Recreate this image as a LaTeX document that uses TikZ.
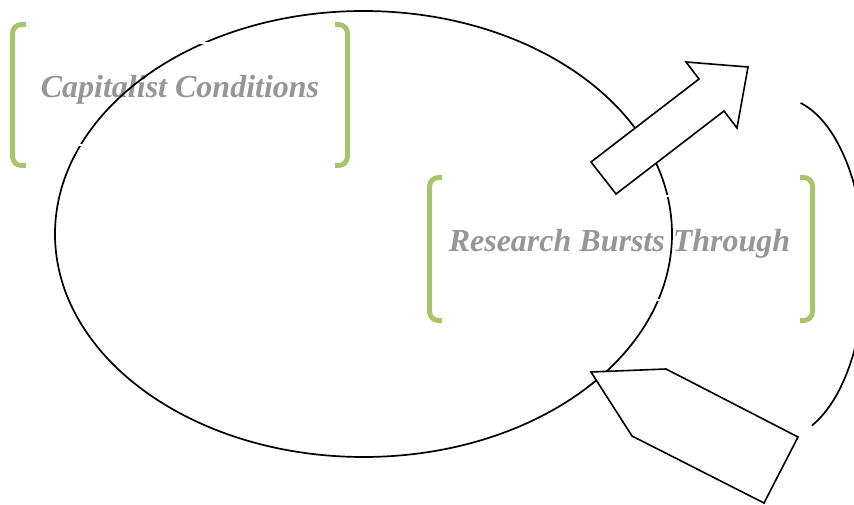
\documentclass[tikz,border=0pt]{standalone}
\usepackage{fontspec}
\setmainfont{Liberation Serif}
\usetikzlibrary{shapes.geometric}
\definecolor{brk}{RGB}{169,196,108}
\definecolor{txt}{RGB}{150,150,150}
\begin{document}
\begin{tikzpicture}[x=1pt,y=1pt,
  bracketline/.style={draw=brk,line width=5pt,rounded corners=9pt},
  lbl/.style={text=txt,font=\fontsize{32}{38}\selectfont\bfseries\itshape,inner sep=0pt,anchor=base},
  wbox/.style={draw=white,line width=2pt,inner sep=0pt},
  blockarrow/.style={draw=black,fill=white,line width=1.6pt,line join=miter},
  ring/.style={draw=black,line width=1.7pt}]
\useasboundingbox (0,0) rectangle (854,504);
\clip (0,0) rectangle (854,504);
% text
\node[lbl] (cap) at (180,406) {Capitalist Conditions};
\node[lbl] (res) at (619.5,252) {Research Bursts Through};
% main ellipse
\node[ring,ellipse,draw,minimum width=617pt,minimum height=446pt,inner sep=0pt] (cyc) at (363.5,270) {};
% white box outlines
\node[wbox,minimum width=300pt,minimum height=102pt] (capbox) at (180,410) {};
\node[wbox,minimum width=350pt,minimum height=104pt] (resbox) at (620,256) {};
% right arc
\coordinate (arcstart) at (800.6,401);
\draw[ring] (arcstart) arc[start angle=76,end angle=-68,x radius=85pt,y radius=170pt];
% arrows
\draw[blockarrow] (591,342) -- (616,310) -- (724,393) -- (737,376) -- (748,437) -- (686,442) -- (699,425) -- cycle;
\draw[blockarrow] (591,132) -- (666,135) -- (798,67) -- (764,1) -- (632,68) -- cycle;
% brackets
\draw[bracketline] (26,479.5) -| (12.5,409) |- (26,338.5);
\draw[bracketline] (335,479.5) -| (347.5,409) |- (335,338.5);
\draw[bracketline] (442,326.5) -| (429.5,255) |- (442,183.5);
\draw[bracketline] (800,326.5) -| (812.5,255) |- (800,183.5);
\end{tikzpicture}
\end{document}
